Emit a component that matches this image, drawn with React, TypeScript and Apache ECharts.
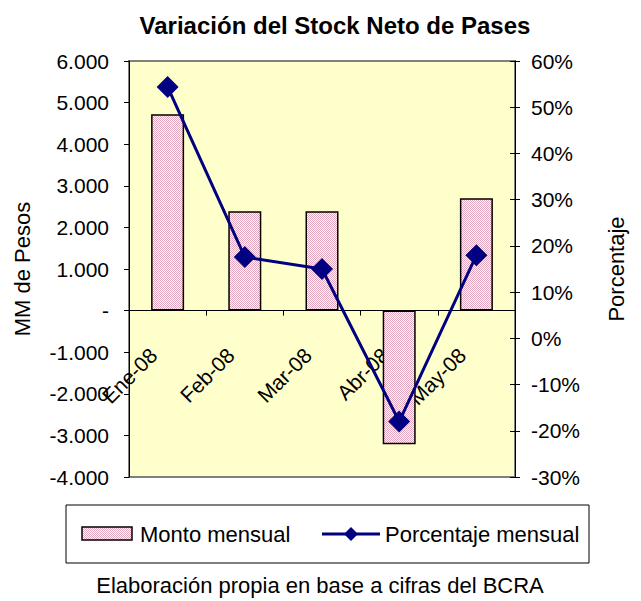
import React, { useEffect, useRef } from "react";
import * as echarts from "echarts";

const categories = ["Ene-08", "Feb-08", "Mar-08", "Abr-08", "May-08"];
const montoMensual = [4720, 2390, 2390, -3210, 2700];
const porcentajeMensual = [54.4, 17.6, 15.0, -18.0, 18.0];
const leftTicks = { min: -4000, max: 6000, interval: 1000 };
const rightTicks = { min: -30, max: 60, interval: 10 };

const FONT = "Liberation Sans, Arial, sans-serif";
const GRID = { left: 129, right: 126, top: 61, bottom: 124 };

function makePattern(): any {
  const c = document.createElement("canvas");
  c.width = 4;
  c.height = 4;
  const ctx = c.getContext("2d");
  if (!ctx) return "#f2d6e0";
  ctx.fillStyle = "#ffffff";
  ctx.fillRect(0, 0, 4, 4);
  ctx.fillStyle = "#e3a6bd";
  for (let x = 0; x < 4; x++) {
    for (let y = 0; y < 4; y++) {
      if ((x + y) % 2 === 0) ctx.fillRect(x, y, 1, 1);
    }
  }
  return { image: c, repeat: "repeat" };
}

function fmtLeft(v: number): string {
  if (v === 0) return "-";
  const s = v < 0 ? "-" : "";
  return s + Math.abs(v) / 1000 + ".000";
}

export default function App() {
  const ref = useRef<HTMLDivElement>(null);
  useEffect(() => {
    document.body.style.margin = "0";
    if (!ref.current) return;
    const chart = echarts.init(ref.current, undefined, { renderer: "svg" });
    const pattern = makePattern();
    const plotH = 601 - GRID.top - GRID.bottom;
    const zeroOffset =
      (plotH * (0 - leftTicks.min)) / (leftTicks.max - leftTicks.min);
    const option: any = {
      animation: false,
      backgroundColor: "#ffffff",
      textStyle: { fontFamily: FONT },
      title: {
        text: "Variación del Stock Neto de Pases",
        left: 330,
        top: 8,
        textAlign: "center",
        textStyle: { fontFamily: FONT, fontSize: 24, fontWeight: "bold", color: "#000" },
      },
      grid: {
        ...GRID,
        show: true,
        backgroundColor: "#ffffcc",
        borderColor: "#808080",
        borderWidth: 2,
      },
      xAxis: {
        type: "category",
        data: categories,
        position: "bottom",
        offset: -zeroOffset,
        axisLine: { onZero: false, lineStyle: { color: "#000", width: 1 } },
        axisTick: { show: true, length: 5, interval: 0, lineStyle: { color: "#000" } },
        axisLabel: {
          rotate: 45,
          interval: 0,
          margin: 27,
          padding: [0, 20, 0, 0],
          color: "#000",
          fontSize: 21,
          fontFamily: FONT,
        },
      },
      yAxis: [
        {
          type: "value",
          position: "left",
          min: leftTicks.min,
          max: leftTicks.max,
          interval: leftTicks.interval,
          name: "MM de Pesos",
          nameLocation: "middle",
          nameRotate: 90,
          nameGap: 96,
          nameTextStyle: { fontFamily: FONT, fontSize: 22, color: "#000" },
          axisLine: { show: true, lineStyle: { color: "#000", width: 1 } },
          axisTick: { show: true, length: 5, lineStyle: { color: "#000" } },
          axisLabel: { formatter: fmtLeft, color: "#000", fontSize: 21, fontFamily: FONT, margin: 20 },
          splitLine: { show: false },
        },
        {
          type: "value",
          position: "right",
          min: rightTicks.min,
          max: rightTicks.max,
          interval: rightTicks.interval,
          name: "Porcentaje",
          nameLocation: "middle",
          nameRotate: 90,
          nameGap: 90,
          nameTextStyle: { fontFamily: FONT, fontSize: 22, color: "#000" },
          axisLine: { show: true, lineStyle: { color: "#000", width: 1 } },
          axisTick: { show: true, length: 5, lineStyle: { color: "#000" } },
          axisLabel: {
            formatter: (v: number) => v + "%",
            color: "#000",
            fontSize: 21,
            fontFamily: FONT,
            margin: 16,
          },
          splitLine: { show: false },
        },
        {
          type: "value",
          position: "right",
          min: rightTicks.min,
          max: rightTicks.max,
          interval: rightTicks.interval,
          axisLine: { show: false },
          axisTick: { show: true, inside: true, length: 5, lineStyle: { color: "#000" } },
          axisLabel: { show: false },
          splitLine: { show: false },
        },
      ],
      series: [
        {
          name: "Monto mensual",
          type: "bar",
          yAxisIndex: 0,
          data: montoMensual,
          barWidth: 33,
          itemStyle: { color: pattern, borderColor: "#000", borderWidth: 1.5 },
        },
        {
          name: "Porcentaje mensual",
          type: "line",
          yAxisIndex: 1,
          data: porcentajeMensual,
          symbol: "diamond",
          symbolSize: 22,
          lineStyle: { color: "#000080", width: 3 },
          itemStyle: { color: "#000080" },
          z: 5,
        },
      ],
      graphic: [
        {
          type: "rect",
          shape: { x: 66, y: 505, width: 523, height: 58 },
          style: { fill: "#fff", stroke: "#000", lineWidth: 1 },
        },
        {
          type: "rect",
          shape: { x: 82, y: 527, width: 50, height: 13 },
          style: { fill: pattern, stroke: "#000", lineWidth: 1.5 },
        },
        {
          type: "text",
          x: 140,
          y: 534,
          style: { text: "Monto mensual", font: "22px " + FONT, fill: "#000", verticalAlign: "middle", align: "left" },
        },
        {
          type: "line",
          shape: { x1: 322, y1: 534, x2: 380, y2: 534 },
          style: { stroke: "#000080", lineWidth: 3 },
        },
        {
          type: "polygon",
          shape: { points: [[351, 527], [358, 534], [351, 541], [344, 534]] },
          style: { fill: "#000080" },
        },
        {
          type: "text",
          x: 385,
          y: 534,
          style: { text: "Porcentaje mensual", font: "22px " + FONT, fill: "#000", verticalAlign: "middle", align: "left" },
        },
        {
          type: "text",
          x: 320,
          y: 585,
          style: {
            text: "Elaboración propia en base a cifras del BCRA",
            font: "22px " + FONT,
            fill: "#000",
            verticalAlign: "middle",
            align: "center",
          },
        },
      ],
    };
    chart.setOption(option);
    return () => chart.dispose();
  }, []);
  return <div ref={ref} style={{ width: 641, height: 601 }} />;
}
